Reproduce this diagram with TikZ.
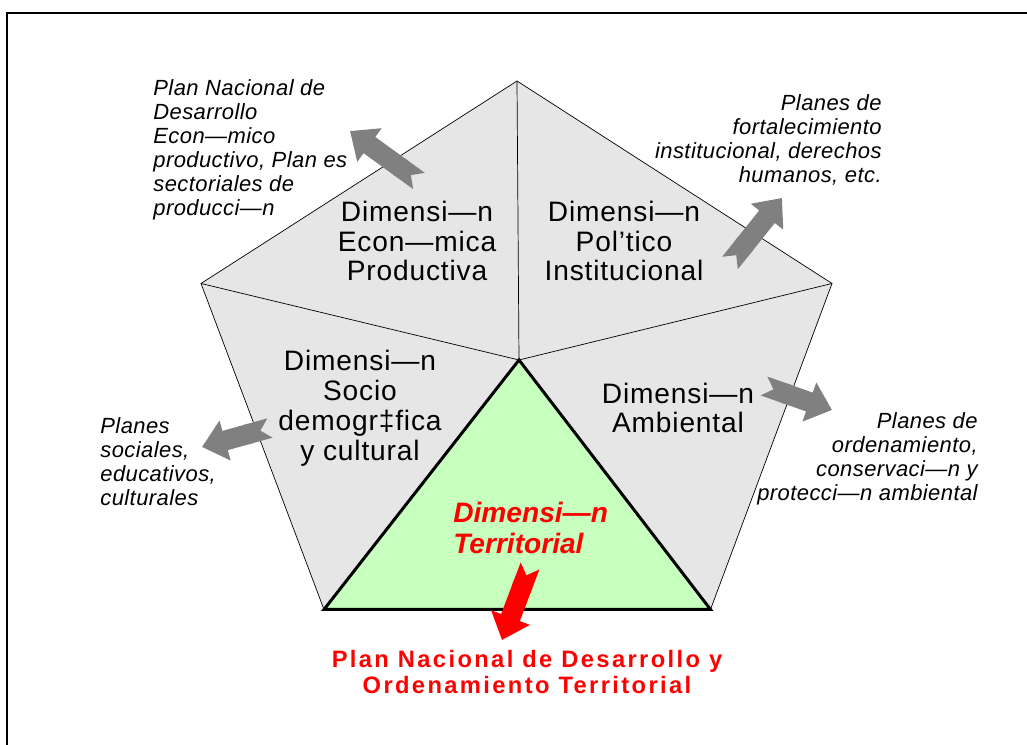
\documentclass[tikz,border=0pt]{standalone}
\usepackage{fontspec}
\setmainfont{Liberation Sans}
\usetikzlibrary{arrows.meta}
\definecolor{sectorGray}{HTML}{E6E6E6}
\definecolor{territGreen}{HTML}{C6FFBE}
\definecolor{arrowGray}{HTML}{808080}

\begin{document}
\begin{tikzpicture}[
    every node/.style={inner sep=0pt},
    dimension/.style={align=center, font=\fontsize{16}{17}\selectfont\addfontfeatures{LetterSpace=3}},
    planLabel/.style={font=\fontsize{12.5}{13.7}\selectfont\itshape\addfontfeatures{LetterSpace=2}},
    territorial/.style={align=left, text=red, font=\fontsize{16}{17.6}\selectfont\bfseries\itshape},
    planTerritorial/.style={align=center, text=red, font=\fontsize{13.5}{14.7}\selectfont\bfseries\addfontfeatures{LetterSpace=10}},
    blockArrow/.style={line width=0.4cm, {Triangle Cap[reversed]}-{Triangle[length=0.48cm, width=0.8cm]}}
]
\useasboundingbox (0,0) rectangle (20.54,14.9);

% Frame
\draw[line width=1.4pt] (0.14,-0.5) -- (0.14,14.64) -- (21,14.64);

% Pentagon
\coordinate (top) at (10.34,13.28);
\coordinate (ul) at (4.02,9.23);
\coordinate (ur) at (16.64,9.23);
\coordinate (ll) at (6.48,2.71);
\coordinate (lr) at (14.21,2.71);
\coordinate (ctr) at (10.38,7.70);
\draw[thin, fill=sectorGray] (top) -- (ur) -- (lr) -- (ll) -- (ul) -- cycle;
\draw[thin] (ctr) -- (top);
\draw[thin] (ctr) -- (ul);
\draw[thin] (ctr) -- (ur);
\draw[line width=1.7pt, fill=territGreen] (ctr) -- (lr) -- (ll) -- cycle;

% Nodes
\node[dimension] (econ) at (8.34,10.08) {Dimensi—n\\Econ—mica\\Productiva};
\node[dimension] (polit) at (12.48,10.08) {Dimensi—n\\Pol’tico\\Institucional};
\node[dimension] (socio) at (7.20,6.74) {Dimensi—n\\Socio\\demogr‡fica\\y cultural};
\node[dimension] (ambient) at (13.56,6.74) {Dimensi—n\\Ambiental};
\node[territorial, anchor=west] (territ) at (9.06,4.35) {Dimensi—n\\Territorial};
\node[planTerritorial] (planTerrit) at (10.54,1.46) {Plan Nacional de Desarrollo y\\Ordenamiento Territorial};

\node[planLabel, align=left, anchor=north west] (planEcon) at (3.06,13.32)
    {Plan Nacional de\\Desarrollo\\Econ—mico\\productivo, Plan es\\sectoriales de\\producci—n};
\node[planLabel, align=right, anchor=north east] (planPolit) at (17.64,13.02)
    {Planes de\\fortalecimiento\\institucional, derechos\\humanos, etc.};
\node[planLabel, align=left, anchor=north west] (planSocio) at (2.0,6.56)
    {Planes\\sociales,\\educativos,\\culturales};
\node[planLabel, align=right, anchor=north east] (planAmbient) at (19.56,6.66)
    {Planes de\\ordenamiento,\\conservaci—n y\\protecci—n ambiental};

% Arrows
\coordinate (econTail) at (8.38,11.28);
\coordinate (econTip) at (7.00,12.28);
\coordinate (politTail) at (14.60,9.64);
\coordinate (politTip) at (15.64,10.94);
\coordinate (socioTail) at (5.40,6.34);
\coordinate (socioTip) at (4.04,5.96);
\coordinate (ambientTail) at (15.28,7.18);
\coordinate (ambientTip) at (16.64,6.70);
\coordinate (territTail) at (10.60,3.58);
\coordinate (territTip) at (10.04,2.10);
\draw[blockArrow, arrowGray] (econTail) -- (econTip);
\draw[blockArrow, arrowGray] (politTail) -- (politTip);
\draw[blockArrow, arrowGray] (socioTail) -- (socioTip);
\draw[blockArrow, arrowGray] (ambientTail) -- (ambientTip);
\draw[blockArrow, red] (territTail) -- (territTip);

\end{tikzpicture}
\end{document}
